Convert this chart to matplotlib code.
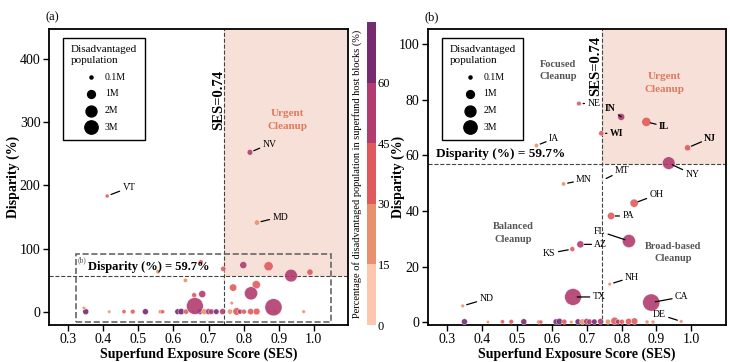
import matplotlib
matplotlib.use("Agg")
import matplotlib.pyplot as plt
from matplotlib.colors import ListedColormap, BoundaryNorm
from matplotlib.patches import Rectangle
import numpy as np

plt.rcParams['font.family'] = ['Liberation Serif', 'DejaVu Serif']

# ---- Data ----
# labelled states: name, SES, disparity (%), disadvantaged pop (M), share in host blocks (%)
states = ["NV", "VT", "MD", "NE", "IN", "IL", "WI", "IA", "NJ", "NY", "MN", "MT",
          "OH", "PA", "FL", "AZ", "KS", "NH", "TX", "CA", "ND", "DE"]
ses = [0.818, 0.411, 0.838, 0.678, 0.799, 0.871, 0.742, 0.556, 0.989, 0.935, 0.634, 0.745,
       0.836, 0.770, 0.821, 0.682, 0.659, 0.766, 0.661, 0.885, 0.345, 0.971]
disparity = [252, 183, 141, 78.6, 73.8, 72.0, 67.9, 63.5, 62.7, 57.2, 49.7, 51.0,
             42.8, 38.2, 29.2, 28.0, 26.3, 13.7, 9.1, 7.1, 5.9, 0.3]
pop = [0.5, 0.2, 0.45, 0.3, 0.8, 1.4, 0.4, 0.25, 0.6, 2.7, 0.25, 0.02,
       1.1, 0.85, 2.9, 0.8, 0.35, 0.15, 4.8, 5.0, 0.15, 0.15]
pct = [47, 38, 25, 38, 46, 44, 32, 25, 38, 48, 24, 10,
       40, 32, 52, 47, 40, 18, 52, 50, 22, 20]

# unlabelled states sitting near zero disparity
ses0 = [0.350, 0.417, 0.459, 0.484, 0.520, 0.563, 0.569, 0.612, 0.622, 0.636, 0.656,
        0.675, 0.688, 0.700, 0.708, 0.722, 0.740, 0.761, 0.780, 0.790, 0.801, 0.820,
        0.837, 0.873, 0.890]
disp0 = [0.2, 0.1, 0.2, 0.2, 0.2, 0.1, 0.1, 0.2, 0.3, 0.2, 0.1,
         0.2, 0.2, 0.3, 0.2, 0.2, 0.3, 0.2, 0.5, 0.2, 0.2, 0.3,
         0.4, 0.1, 0.1]
pop0 = [0.55, 0.12, 0.22, 0.3, 0.55, 0.25, 0.2, 0.5, 0.6, 0.4, 0.15,
        0.5, 0.5, 0.55, 0.45, 0.45, 0.55, 0.4, 0.9, 0.35, 0.35, 0.6,
        0.7, 0.2, 0.2]
pct0 = [65, 25, 40, 38, 66, 28, 30, 62, 70, 38, 25,
        62, 26, 55, 50, 64, 48, 28, 33, 45, 40, 40,
        42, 27, 28]

# label offsets in points (panel b and the three outliers of panel a)
offsets = {"NV": (9, 6), "VT": (11, 6), "MD": (11, 4), "NE": (6, 0), "IN": (-4, 6),
           "IL": (9, -3), "WI": (6, 0), "IA": (9, 5), "NJ": (12, 7), "NY": (12, -8),
           "MN": (9, 3), "MT": (9, 7), "OH": (11, 6), "PA": (8, 0), "FL": (-17, 7),
           "AZ": (10, 0), "KS": (-12, -3), "NH": (11, 5), "TX": (14, 0), "CA": (17, 4),
           "ND": (12, 5), "DE": (-11, 5)}
bold_labels = {"IN", "IL", "WI", "NJ"}

SES_CUT = 0.745
DISP_CUT = 57
SIZE_PER_M = 30

cmap = ListedColormap(['#fdc6ae', '#e9916c', '#e05a5d', '#b13c6f', '#762b71'])
norm = BoundaryNorm([0, 15, 30, 45, 60, 75], cmap.N)

fig = plt.figure(figsize=(7.3, 3.62), dpi=100)
ax_a = fig.add_axes([0.067, 0.102, 0.410, 0.818])
cax = fig.add_axes([0.503, 0.102, 0.0125, 0.837])
ax_b = fig.add_axes([0.586, 0.102, 0.408, 0.818])


def draw_panel(ax, ylim, yticks):
    ax.set_xlim(0.245, 1.098)
    ax.set_ylim(*ylim)
    ax.add_patch(Rectangle((SES_CUT, DISP_CUT), 1.2 - SES_CUT, ylim[1] - DISP_CUT,
                           facecolor='#f6e0d8', edgecolor='none', zorder=0))
    ax.axvline(SES_CUT, ls='--', color='#444444', lw=0.8, zorder=1)
    ax.axhline(DISP_CUT, ls='--', color='#444444', lw=0.8, zorder=1)
    x = np.concatenate([ses0, ses])
    y = np.concatenate([disp0, disparity])
    s = np.concatenate([pop0, pop]) * SIZE_PER_M + 2
    c = np.concatenate([pct0, pct])
    ax.scatter(x, y, s=s, c=c, cmap=cmap, norm=norm, alpha=0.9,
               edgecolors='white', linewidths=0.3, zorder=3)
    ax.set_xticks([0.3, 0.4, 0.5, 0.6, 0.7, 0.8, 0.9, 1.0])
    ax.set_xticklabels(['0.3', '0.4', '0.5', '0.6', '0.7', '0.8', '0.9', '1.0'])
    ax.set_yticks(yticks)
    ax.tick_params(labelsize=10, length=4, width=1, pad=2)
    for sp in ax.spines.values():
        sp.set_linewidth(1.3)
    ax.set_xlabel('Superfund Exposure Score (SES)', fontsize=10, fontweight='bold',
                  labelpad=1)
    ax.set_ylabel('Disparity (%)', fontsize=10, fontweight='bold', labelpad=0)
    handles = [ax.scatter([], [], s=v * SIZE_PER_M + 2, c='k') for v in [0.1, 1, 2, 3]]
    leg = ax.legend(handles, ['0.1M', '1M', '2M', '3M'], title='Disadvantaged\npopulation',
                    loc='upper left', bbox_to_anchor=(0.03, 0.987), fontsize=7,
                    title_fontsize=8, fancybox=False, edgecolor='k', labelspacing=0.8,
                    handletextpad=0.4, borderpad=0.8, framealpha=1)
    leg.get_frame().set_linewidth(1)
    leg._legend_box.align = 'center'


def label(ax, name):
    i = states.index(name)
    dx, dy = offsets[name]
    ax.annotate(name, xy=(ses[i], disparity[i]), xytext=(dx, dy), textcoords='offset points',
                ha='left' if dx > 0 else 'right', va='center', fontsize=7,
                fontweight='bold' if name in bold_labels else 'normal',
                arrowprops=dict(arrowstyle='-', color='k', lw=0.9, shrinkA=0, shrinkB=3),
                zorder=5)


# ---- Panel (a) ----
draw_panel(ax_a, (-21, 447), [0, 100, 200, 300, 400])
ax_a.add_patch(Rectangle((0.323, -16), 0.727, 108, fill=False, ls='--',
                         edgecolor='#666666', lw=1.2, zorder=4))
ax_a.text(0.328, 88, '(b)', fontsize=5.5, color='#555555', va='top')
ax_a.text(0.355, 70, 'Disparity (%) = 59.7%', fontsize=9, fontweight='bold', va='center')
ax_a.text(0.728, 335, 'SES=0.74', rotation=90, fontsize=10.5, fontweight='bold',
          ha='center', va='center')
ax_a.text(0.925, 303, 'Urgent\nCleanup', color='#e07a5f', fontsize=8, fontweight='bold',
          ha='center', va='center', linespacing=1.5)
for name in ["NV", "VT", "MD"]:
    label(ax_a, name)
ax_a.text(-0.01, 1.04, '(a)', transform=ax_a.transAxes, fontsize=9, va='center')

# ---- Panel (b) ----
draw_panel(ax_b, (-1, 105.4), [0, 20, 40, 60, 80, 100])
ax_b.yaxis.set_label_coords(-0.078, 0.5)
ax_b.text(0.268, 60.4, 'Disparity (%) = 59.7%', fontsize=9.5, fontweight='bold', va='center')
ax_b.text(0.725, 92, 'SES=0.74', rotation=90, fontsize=10.5, fontweight='bold',
          ha='center', va='center')
ax_b.text(0.922, 86, 'Urgent\nCleanup', color='#e07a5f', fontsize=8, fontweight='bold',
          ha='center', va='center', linespacing=1.5)
ax_b.text(0.618, 90.5, 'Focused\nCleanup', color='#555555', fontsize=7.5, fontweight='bold',
          ha='center', va='center', linespacing=1.5)
ax_b.text(0.489, 32, 'Balanced\nCleanup', color='#555555', fontsize=7.5, fontweight='bold',
          ha='center', va='center', linespacing=1.5)
ax_b.text(0.948, 25, 'Broad-based\nCleanup', color='#555555', fontsize=7.5, fontweight='bold',
          ha='center', va='center', linespacing=1.5)
for name in states:
    if name not in ["NV", "VT", "MD"]:
        label(ax_b, name)
ax_b.text(-0.01, 1.04, '(b)', transform=ax_b.transAxes, fontsize=9, va='center')

# ---- Colorbar ----
sm = plt.cm.ScalarMappable(cmap=cmap, norm=norm)
cb = fig.colorbar(sm, cax=cax, ticks=[0, 15, 30, 45, 60])
cb.outline.set_visible(False)
cb.ax.minorticks_off()
cb.ax.tick_params(which='both', length=0, labelsize=9, pad=1)
cb.set_label('Percentage of disadvantaged population in superfund host blocks (%)',
             fontsize=7.5)
cb.ax.yaxis.set_label_position('left')

fig.savefig('out.png', dpi=100)
